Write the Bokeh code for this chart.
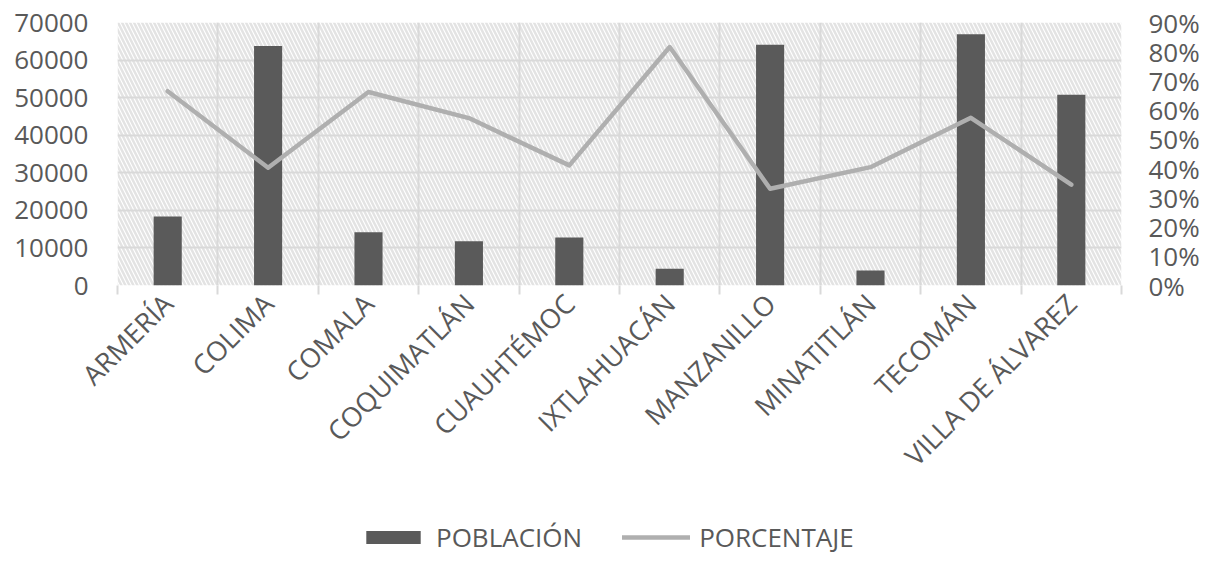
from bokeh.plotting import figure
from bokeh.layouts import column
from bokeh.models import (Range1d, LinearAxis, FixedTicker, Grid, BoxAnnotation,
                          Legend, LegendItem, NumeralTickFormatter,
                          CustomJSTickFormatter)
from bokeh.embed import file_html
from bokeh.resources import INLINE
import math

categorias = ["ARMERÍA", "COLIMA", "COMALA", "COQUIMATLÁN", "CUAUHTÉMOC",
              "IXTLAHUACÁN", "MANZANILLO", "MINATITLÁN", "TECOMÁN", "VILLA DE ÁLVAREZ"]
poblacion = [18350, 63750, 14200, 11800, 12750, 4450, 64100, 4000, 66900, 50800]
porcentaje = [0.665, 0.403, 0.662, 0.573, 0.411, 0.816, 0.331, 0.405, 0.574, 0.345]
ticks_izq = [0, 10000, 20000, 30000, 40000, 50000, 60000, 70000]
ticks_der = [0, 0.1, 0.2, 0.3, 0.4, 0.5, 0.6, 0.7, 0.8, 0.9]

FONT = "Open Sans"
TXT = "#595959"
GRID = "#d9d9d9"
BAR = "#5a5a5a"
LINE = "#afafaf"

n = len(categorias)
xc = [i + 0.5 for i in range(n)]          # category centres
xb = list(range(n + 1))                    # category boundaries

W = 1204
p = figure(x_range=Range1d(0, n), y_range=Range1d(0, 70000),
           width=W, height=490, output_backend="svg", toolbar_location=None,
           x_axis_location=None,
           min_border_left=117, min_border_right=83, min_border_top=22,
           min_border_bottom=205, outline_line_color=None)
p.extra_y_ranges = {"pct": Range1d(0, 0.9)}

# hatched plot-area background
p.add_layout(BoxAnnotation(fill_alpha=0, line_color=None, hatch_pattern="\\",
                           hatch_color="#e3e3e3", hatch_scale=8, hatch_weight=2.5,
                           level="image"))

# grids
p.ygrid.ticker = FixedTicker(ticks=ticks_izq)
p.ygrid.grid_line_color = GRID
p.ygrid.grid_line_width = 2
p.add_layout(Grid(dimension=0, ticker=FixedTicker(ticks=xb),
                  grid_line_color=GRID, grid_line_width=2))

# left axis
ya = p.yaxis[0]
ya.ticker = FixedTicker(ticks=ticks_izq)
ya.formatter = NumeralTickFormatter(format="0")
ya.axis_line_color = None
ya.major_tick_line_color = None
ya.major_tick_in = 0
ya.major_tick_out = 0
ya.minor_tick_line_color = None
ya.major_label_text_font = FONT
ya.major_label_text_font_size = "26px"
ya.major_label_text_color = TXT
ya.major_label_standoff = 29

# right axis
ra = LinearAxis(y_range_name="pct", ticker=FixedTicker(ticks=ticks_der),
                formatter=NumeralTickFormatter(format="0%"),
                axis_line_color=None, major_tick_line_color=None,
                major_tick_in=0, major_tick_out=0,
                minor_tick_line_color=None, major_label_text_font=FONT,
                major_label_text_font_size="26px", major_label_text_color=TXT,
                major_label_standoff=27)
p.add_layout(ra, "right")

# tick marks at category boundaries
ta = LinearAxis(ticker=FixedTicker(ticks=xb),
                formatter=CustomJSTickFormatter(code="return ''"),
                axis_line_color=None, major_tick_in=0, major_tick_out=9,
                major_tick_line_color=GRID, major_tick_line_width=2,
                minor_tick_line_color=None, major_label_standoff=0)
p.add_layout(ta, "below")

# category labels
xa = LinearAxis(ticker=FixedTicker(ticks=xc),
                major_label_overrides={x: c for x, c in zip(xc, categorias)},
                axis_line_color=None, major_tick_line_color=None,
                major_tick_in=0, major_tick_out=0,
                minor_tick_line_color=None,
                major_label_orientation=math.pi / 4,
                major_label_text_font=FONT, major_label_text_font_size="27px",
                major_label_text_color=TXT, major_label_standoff=4)
p.add_layout(xa, "below")

p.vbar(x=xc, top=poblacion, width=0.28, fill_color=BAR, line_color=None)
p.line(x=xc, y=porcentaje, y_range_name="pct", line_color=LINE,
       line_width=4.5, line_join="round", line_cap="round")

# legend strip (its renderers are hidden copies that only supply the legend glyphs)
lg = figure(x_range=Range1d(0, n), y_range=Range1d(0, 70000), width=W, height=65,
            output_backend="svg", toolbar_location=None,
            x_axis_location=None, y_axis_location=None, min_border=0,
            outline_line_color=None)
lg.xgrid.visible = False
lg.ygrid.visible = False
r_bar = lg.vbar(x=xc, top=poblacion, width=0.28, fill_color=BAR, line_color=None,
                visible=False)
r_line = lg.line(x=xc, y=porcentaje, line_color=LINE, line_width=4.5,
                 line_cap="round", visible=False)
legend = Legend(items=[LegendItem(label="POBLACIÓN", renderers=[r_bar]),
                       LegendItem(label="PORCENTAJE", renderers=[r_line])],
                orientation="horizontal", location=(242, 0),
                glyph_width=68, glyph_height=16, label_standoff=9, spacing=40,
                padding=0, margin=0, border_line_color=None,
                background_fill_alpha=0, inactive_fill_alpha=0,
                label_text_font=FONT, label_text_font_size="26px",
                label_text_color=TXT)
lg.add_layout(legend, "center")

open("out.html", "w").write(file_html(column(p, lg, spacing=0), INLINE))
